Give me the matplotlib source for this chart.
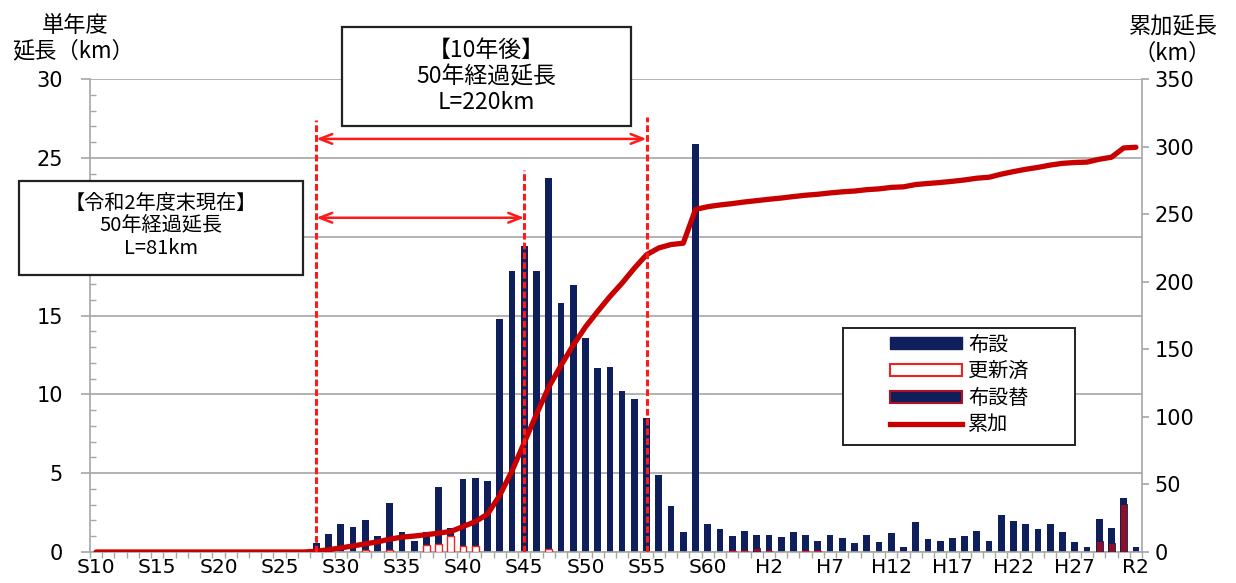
import matplotlib
matplotlib.use("Agg")
import matplotlib.pyplot as plt
import numpy as np
from matplotlib.lines import Line2D
from matplotlib.patches import Patch, Rectangle
from matplotlib.ticker import FixedLocator, MultipleLocator

plt.rcParams['font.family'] = ['Noto Sans CJK JP', 'DejaVu Sans']

# fiscal years S10 (1935) .. R2 (2020)
fiscal_years = ([f'S{n}' for n in range(10, 64)]
                + [f'H{n}' for n in range(1, 31)]
                + ['R1', 'R2'])
tick_labels = fiscal_years[::5]

# single-year length laid (km)
laid_km = [
    0, 0, 0, 0, 0, 0, 0, 0, 0, 0, 0, 0, 0, 0, 0, 0, 0, 0,       # S10-S27
    0.6, 1.15, 1.8, 1.6, 2.05, 1.0, 3.1, 1.3, 0.7, 1.3,         # S28-S37
    4.1, 1.5, 4.65, 4.7, 4.5, 14.8, 17.8, 19.4, 17.85, 23.7,    # S38-S47
    15.8, 16.95, 13.6, 11.7, 11.75, 10.2, 9.7, 8.5, 4.9, 2.9,   # S48-S57
    1.3, 25.9, 1.8, 1.45, 1.0, 1.35,                            # S58-S63
    1.05, 1.05, 0.95, 1.3, 1.05, 0.72, 1.08, 0.87, 0.6, 1.1,    # H1-H10
    0.63, 1.18, 0.34, 1.9, 0.8, 0.72, 0.89, 1.04, 1.35, 0.72,   # H11-H20
    2.33, 1.97, 1.75, 1.44, 1.78, 1.3, 0.63, 0.3, 2.1, 1.52,    # H21-H30
    3.4, 0.34,                                                  # R1-R2
]

# portions already renewed
renewed_years = ['S32', 'S34', 'S37', 'S38', 'S39', 'S40', 'S41', 'S47',
                 'S62', 'S63', 'H2', 'H5', 'H6']
renewed_km = [0.15, 0.15, 0.45, 0.5, 1.0, 0.35, 0.4, 0.2,
              0.08, 0.08, 0.08, 0.08, 0.08]

# replacement pipes laid
replaced_years = ['H1', 'H29', 'H30', 'R1']
replaced_km = [0.25, 0.7, 0.6, 3.05]

# cumulative length (km, right axis)
cumulative_km = [
    0, 0, 0, 0, 0, 0, 0, 0, 0, 0, 0, 0, 0, 0, 0, 0, 0, 0,       # S10-S27
    0.6, 1.7, 3.0, 4.5, 6.0, 7.5, 9.5, 11.0, 11.8, 12.8,        # S28-S37
    14.0, 15.2, 18.8, 22.5, 28.0, 42.0, 60.0, 81.0, 102.0, 122.0,  # S38-S47
    138.0, 153.0, 166.5, 178.0, 189.0, 199.0, 210.0, 220.0, 225.0, 227.5,  # S48-S57
    228.5, 253.5, 255.5, 256.8, 257.8, 259.0,                   # S58-S63
    260.0, 261.0, 261.9, 263.0, 264.0, 264.7, 265.7, 266.5, 267.1, 268.1,  # H1-H10
    268.7, 269.8, 270.2, 271.9, 272.7, 273.4, 274.3, 275.3, 276.6, 277.3,  # H11-H20
    279.6, 281.5, 283.2, 284.6, 286.3, 287.6, 288.2, 288.5, 290.6, 292.1,  # H21-H30
    299.0, 299.5,                                               # R1-R2
]

NAVY = '#0f1f5c'
MAROON = '#8c1028'
LINE_RED = '#c80000'
GUIDE_RED = '#ff1a1a'
GRID = '#a6a6a6'
TICK_FONT = dict(family='DejaVu Sans', size=14.5)

W, H = 1236, 583
fig = plt.figure(figsize=(W / 100, H / 100), dpi=100)
ax = fig.add_axes([90 / W, 31 / H, 1052 / W, 473 / H])

x = np.arange(len(fiscal_years))
ax.bar(x, laid_km, width=0.55, color=NAVY, zorder=2)
ren_idx = [fiscal_years.index(y) for y in renewed_years]
ax.bar(ren_idx, renewed_km, width=0.55, facecolor='white',
       edgecolor='#ee2222', linewidth=1.0, zorder=3)
rep_idx = [fiscal_years.index(y) for y in replaced_years]
ax.bar(rep_idx, replaced_km, width=0.55, facecolor=MAROON,
       edgecolor=NAVY, linewidth=0.6, zorder=3)

ax.set_xlim(-0.5, len(fiscal_years) - 0.5)
ax.set_ylim(0, 30)
ax.set_axisbelow(True)
ax.yaxis.grid(True, color=GRID, linewidth=1.2)

ax.xaxis.set_major_locator(FixedLocator(range(0, len(fiscal_years), 5)))
ax.set_xticklabels(tick_labels, fontdict=TICK_FONT)
ax.xaxis.set_minor_locator(FixedLocator(np.arange(-0.5, len(fiscal_years), 1)))
ax.tick_params(axis='x', which='major', length=0, pad=4)
ax.tick_params(axis='x', which='minor', length=4, color=GRID, width=1)

ax.yaxis.set_major_locator(MultipleLocator(5))
ax.yaxis.set_minor_locator(MultipleLocator(1))
ax.tick_params(axis='y', which='major', direction='out', length=6.5,
               color=GRID, width=1.2, pad=13)
ax.tick_params(axis='y', which='minor', direction='in', length=4,
               color=GRID, width=1)
for lab in ax.get_yticklabels():
    lab.set_fontfamily('DejaVu Sans')
    lab.set_fontsize(15)

for side in ('top', 'right'):
    ax.spines[side].set_visible(False)
for side in ('left', 'bottom'):
    ax.spines[side].set_color(GRID)
    ax.spines[side].set_linewidth(1.2)

ax2 = ax.twinx()
ax2.plot(x, cumulative_km, color=LINE_RED, linewidth=3.8,
         solid_joinstyle='round', solid_capstyle='round', zorder=4)
ax2.set_ylim(0, 350)
ax2.yaxis.set_major_locator(MultipleLocator(50))
ax2.tick_params(axis='y', direction='out', length=5, color=GRID,
                width=1.2, pad=4)
for lab in ax2.get_yticklabels():
    lab.set_fontfamily('DejaVu Sans')
    lab.set_fontsize(15)
for side in ('top', 'left', 'bottom'):
    ax2.spines[side].set_visible(False)
ax2.spines['right'].set_color(GRID)
ax2.spines['right'].set_linewidth(1.2)

# guide lines and spans, in bar-axis data units
data = ax.transData
for xi, top in ((18, 27.4), (35, 24.2), (45, 27.6)):
    ax2.add_line(Line2D([xi, xi], [0, top], transform=data, color=GUIDE_RED,
                        linewidth=2.2, linestyle=(0, (2.2, 1.0)), zorder=5))

arrow = dict(arrowstyle='<->,head_length=0.9,head_width=0.35',
             color=GUIDE_RED, linewidth=1.8, shrinkA=0, shrinkB=0)
ax2.annotate('', xy=(45, 26.2), xytext=(18, 26.2),
             xycoords=data, textcoords=data, arrowprops=arrow)
ax2.annotate('', xy=(35, 21.2), xytext=(18, 21.2),
             xycoords=data, textcoords=data, arrowprops=arrow)

ax2.add_patch(Rectangle((20.1, 27.0), 23.6, 6.3, transform=data,
                        facecolor='white', edgecolor='#222222',
                        linewidth=1.6, clip_on=False, zorder=6))
ax2.text(31.9, 30.15, '【10年後】\n50年経過延長\nL=220km', transform=data,
         ha='center', va='center', multialignment='center',
         fontsize=16.5, linespacing=1.15, zorder=7, clip_on=False)

ax2.add_patch(Rectangle((-6.3, 17.6), 23.2, 5.9, transform=data,
                        facecolor='white', edgecolor='#222222',
                        linewidth=1.6, clip_on=False, zorder=6))
ax2.text(5.3, 20.7, '【令和2年度末現在】\n50年経過延長\nL=81km', transform=data,
         ha='center', va='center', multialignment='center',
         fontsize=14.5, linespacing=1.1, zorder=7, clip_on=False)

# legend with a square frame
handles = [
    Patch(facecolor=NAVY, edgecolor=NAVY),
    Patch(facecolor='white', edgecolor='#ee2222', linewidth=1.5),
    Patch(facecolor=NAVY, edgecolor='#b01020', linewidth=1.5),
    Line2D([], [], color=LINE_RED, linewidth=3.8),
]
labels = ['布設', '更新済', '布設替', '累加']
fig.patches.append(Rectangle((843 / W, 1 - 445 / H), 232 / W, 117 / H,
                             transform=fig.transFigure, facecolor='white',
                             edgecolor='#222222', linewidth=1.4, zorder=8))
leg = fig.legend(handles, labels, loc='center',
                 bbox_to_anchor=(959 / W, 1 - 385 / H), frameon=False,
                 fontsize=14.5, handlelength=3.6, handleheight=0.55,
                 handletextpad=0.3, labelspacing=0.28)
leg.set_zorder(9)

fig.text(75 / W, 1 - 25 / H, '単年度', ha='center', va='center', fontsize=16)
fig.text(73 / W, 1 - 51 / H, '延長（km）', ha='center', va='center', fontsize=16)
fig.text(1173 / W, 1 - 27 / H, '累加延長', ha='center', va='center', fontsize=16)
fig.text(1172 / W, 1 - 53 / H, '（km）', ha='center', va='center', fontsize=16)

fig.savefig('out.png', dpi=100)
